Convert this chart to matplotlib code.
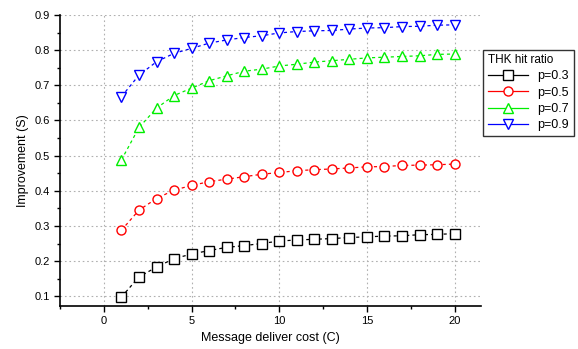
import matplotlib
matplotlib.use("Agg")
import matplotlib.pyplot as plt
from matplotlib.ticker import MultipleLocator

# message deliver cost
cost = list(range(1, 21))

# improvement for each THK hit ratio
p03 = [0.098, 0.155, 0.183, 0.207, 0.220, 0.230, 0.239, 0.244, 0.250, 0.257,
       0.260, 0.262, 0.264, 0.267, 0.269, 0.271, 0.272, 0.275, 0.276, 0.278]
p05 = [0.288, 0.345, 0.378, 0.402, 0.415, 0.426, 0.433, 0.440, 0.447, 0.452,
       0.457, 0.460, 0.462, 0.465, 0.468, 0.469, 0.472, 0.473, 0.474, 0.476]
p07 = [0.488, 0.580, 0.635, 0.671, 0.692, 0.713, 0.727, 0.740, 0.746, 0.755,
       0.760, 0.766, 0.770, 0.774, 0.778, 0.780, 0.782, 0.784, 0.788, 0.789]
p09 = [0.668, 0.729, 0.767, 0.791, 0.805, 0.820, 0.829, 0.836, 0.841, 0.849,
       0.853, 0.855, 0.856, 0.860, 0.863, 0.864, 0.867, 0.868, 0.871, 0.872]

labels = ["p=0.3", "p=0.5", "p=0.7", "p=0.9"]
series = [p03, p05, p07, p09]
colors = ["black", "#ff0000", "#00ee00", "#0000ff"]
markers = ["s", "o", "^", "v"]

plt.rcParams['font.family'] = ['Liberation Sans', 'DejaVu Sans']

fig = plt.figure(figsize=(5.78, 3.49), dpi=100)
ax = fig.add_axes([0.104, 0.123, 0.728, 0.834])

for vals, lab, col, mk in zip(series, labels, colors, markers):
    ax.plot(cost, vals, color=col, marker=mk, markersize=6.5,
            markerfacecolor="white", markeredgecolor=col, markeredgewidth=1.0,
            linestyle=(0, (2.5, 2.5)), linewidth=0.9, label=lab)

ax.set_xlim(-2.5, 21.5)
ax.set_ylim(0.072, 0.9)
ax.xaxis.set_minor_locator(MultipleLocator(2.5))
ax.yaxis.set_minor_locator(MultipleLocator(0.05))
ax.set_xticks([0, 5, 10, 15, 20])
ax.set_yticks([0.1, 0.2, 0.3, 0.4, 0.5, 0.6, 0.7, 0.8, 0.9])
ax.set_yticklabels(["0.1", "0.2", "0.3", "0.4", "0.5", "0.6", "0.7", "0.8", "0.9"])
ax.tick_params(axis="both", which="major", labelsize=8, length=4, width=1)
ax.tick_params(axis="both", which="minor", length=2.5, width=1)

ax.grid(True, which="major", color="#b0b0b0", linestyle=(0, (1.5, 2.5)), linewidth=0.8)
ax.spines["top"].set_visible(False)
ax.spines["right"].set_visible(False)
ax.spines["left"].set_linewidth(1.2)
ax.spines["bottom"].set_linewidth(1.2)

ax.set_xlabel("Message deliver cost (C)", fontsize=9)
ax.set_ylabel("Improvement (S)", fontsize=9)

leg = ax.legend(title="THK hit ratio", loc="upper left",
                bbox_to_anchor=(0.836, 0.858), bbox_transform=fig.transFigure,
                fontsize=9, title_fontsize=8.5, frameon=True, fancybox=False,
                edgecolor="black", handlelength=3.2, borderpad=0.35,
                labelspacing=0.35, handletextpad=0.8, borderaxespad=0)
leg.get_frame().set_linewidth(1.0)
leg._legend_box.align = "left"
# legend keys are drawn with a solid line in the original
for line in leg.get_lines():
    line.set_linestyle("-")

fig.savefig("out.png", dpi=100)
